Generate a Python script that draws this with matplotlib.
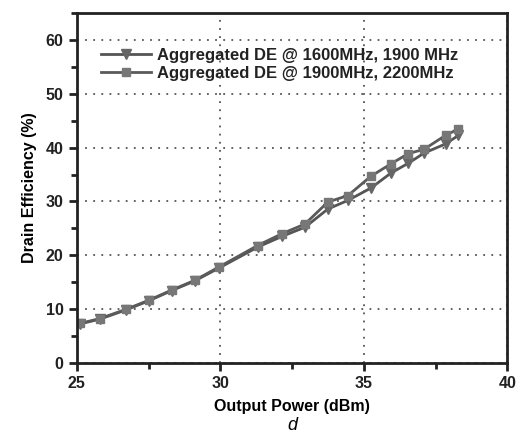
import matplotlib
matplotlib.use("Agg")
import matplotlib.pyplot as plt
from matplotlib.ticker import MultipleLocator

# output power (dBm) and drain efficiency (%)
pout_a = [25.1, 25.8, 26.7, 27.5, 28.3, 29.1, 29.95, 31.3, 32.15, 32.95, 33.75, 34.45, 35.25, 35.95, 36.55, 37.1, 37.85, 38.3]
de_a = [7.2, 8.1, 9.8, 11.5, 13.4, 15.2, 17.6, 21.5, 23.5, 25.2, 28.6, 30.2, 32.5, 35.3, 37.1, 39.0, 40.7, 42.3]

pout_b = [25.1, 25.8, 26.7, 27.5, 28.3, 29.1, 29.95, 31.3, 32.15, 32.95, 33.75, 34.45, 35.25, 35.95, 36.55, 37.1, 37.85, 38.3]
de_b = [7.3, 8.2, 9.9, 11.6, 13.5, 15.3, 17.8, 21.8, 24.0, 25.8, 29.9, 31.1, 34.7, 37.0, 38.9, 39.7, 42.3, 43.5]

label_a = "Aggregated DE @ 1600MHz, 1900 MHz"
label_b = "Aggregated DE @ 1900MHz, 2200MHz"

plt.rcParams["font.family"] = ["Liberation Sans", "DejaVu Sans"]
plt.rcParams["font.weight"] = "bold"

fig = plt.figure(figsize=(5.16, 4.33), dpi=100)
ax = fig.add_axes([0.149, 0.1624, 0.834, 0.8068])

ax.plot(pout_a, de_a, "-v", color="#555555", mfc="#666666", mec="#666666",
        lw=2, ms=7, label=label_a)
ax.plot(pout_b, de_b, "-s", color="#5a5a5a", mfc="#777777", mec="#777777",
        lw=2, ms=5.5, label=label_b)

ax.set_xlim(25, 40)
ax.set_ylim(0, 65)
ax.xaxis.set_major_locator(MultipleLocator(5))
ax.xaxis.set_minor_locator(MultipleLocator(2.5))
ax.yaxis.set_major_locator(MultipleLocator(10))
ax.yaxis.set_minor_locator(MultipleLocator(5))
ax.set_yticks(range(0, 61, 10))

for sp in ax.spines.values():
    sp.set_linewidth(2)
    sp.set_color("#222222")
ax.tick_params(which="major", direction="out", length=6, width=2, labelsize=11.5, colors="#222222")
ax.tick_params(which="minor", direction="out", length=4, width=2, colors="#222222")
for t in ax.get_xticklabels() + ax.get_yticklabels():
    t.set_fontweight("bold")

ax.grid(True, which="major", linestyle=(0, (1, 3.5)), color="#555555", lw=1.3)

ax.set_xlabel("Output Power (dBm)", fontsize=11.5, fontweight="bold", labelpad=6)
ax.set_ylabel("Drain Efficiency (%)", fontsize=11.5, fontweight="bold", labelpad=6)
fig.text(0.566, 0.008, "d", fontsize=13, fontstyle="italic", fontweight="normal",
         ha="center", va="baseline")

leg = ax.legend(loc="upper left", bbox_to_anchor=(0.04, 0.92), frameon=False,
                fontsize=12, handlelength=3, handletextpad=0.35, labelspacing=0.2,
                borderaxespad=0)
for t in leg.get_texts():
    t.set_fontweight("bold")
    t.set_color("#222222")

fig.savefig("out.png", dpi=100)
